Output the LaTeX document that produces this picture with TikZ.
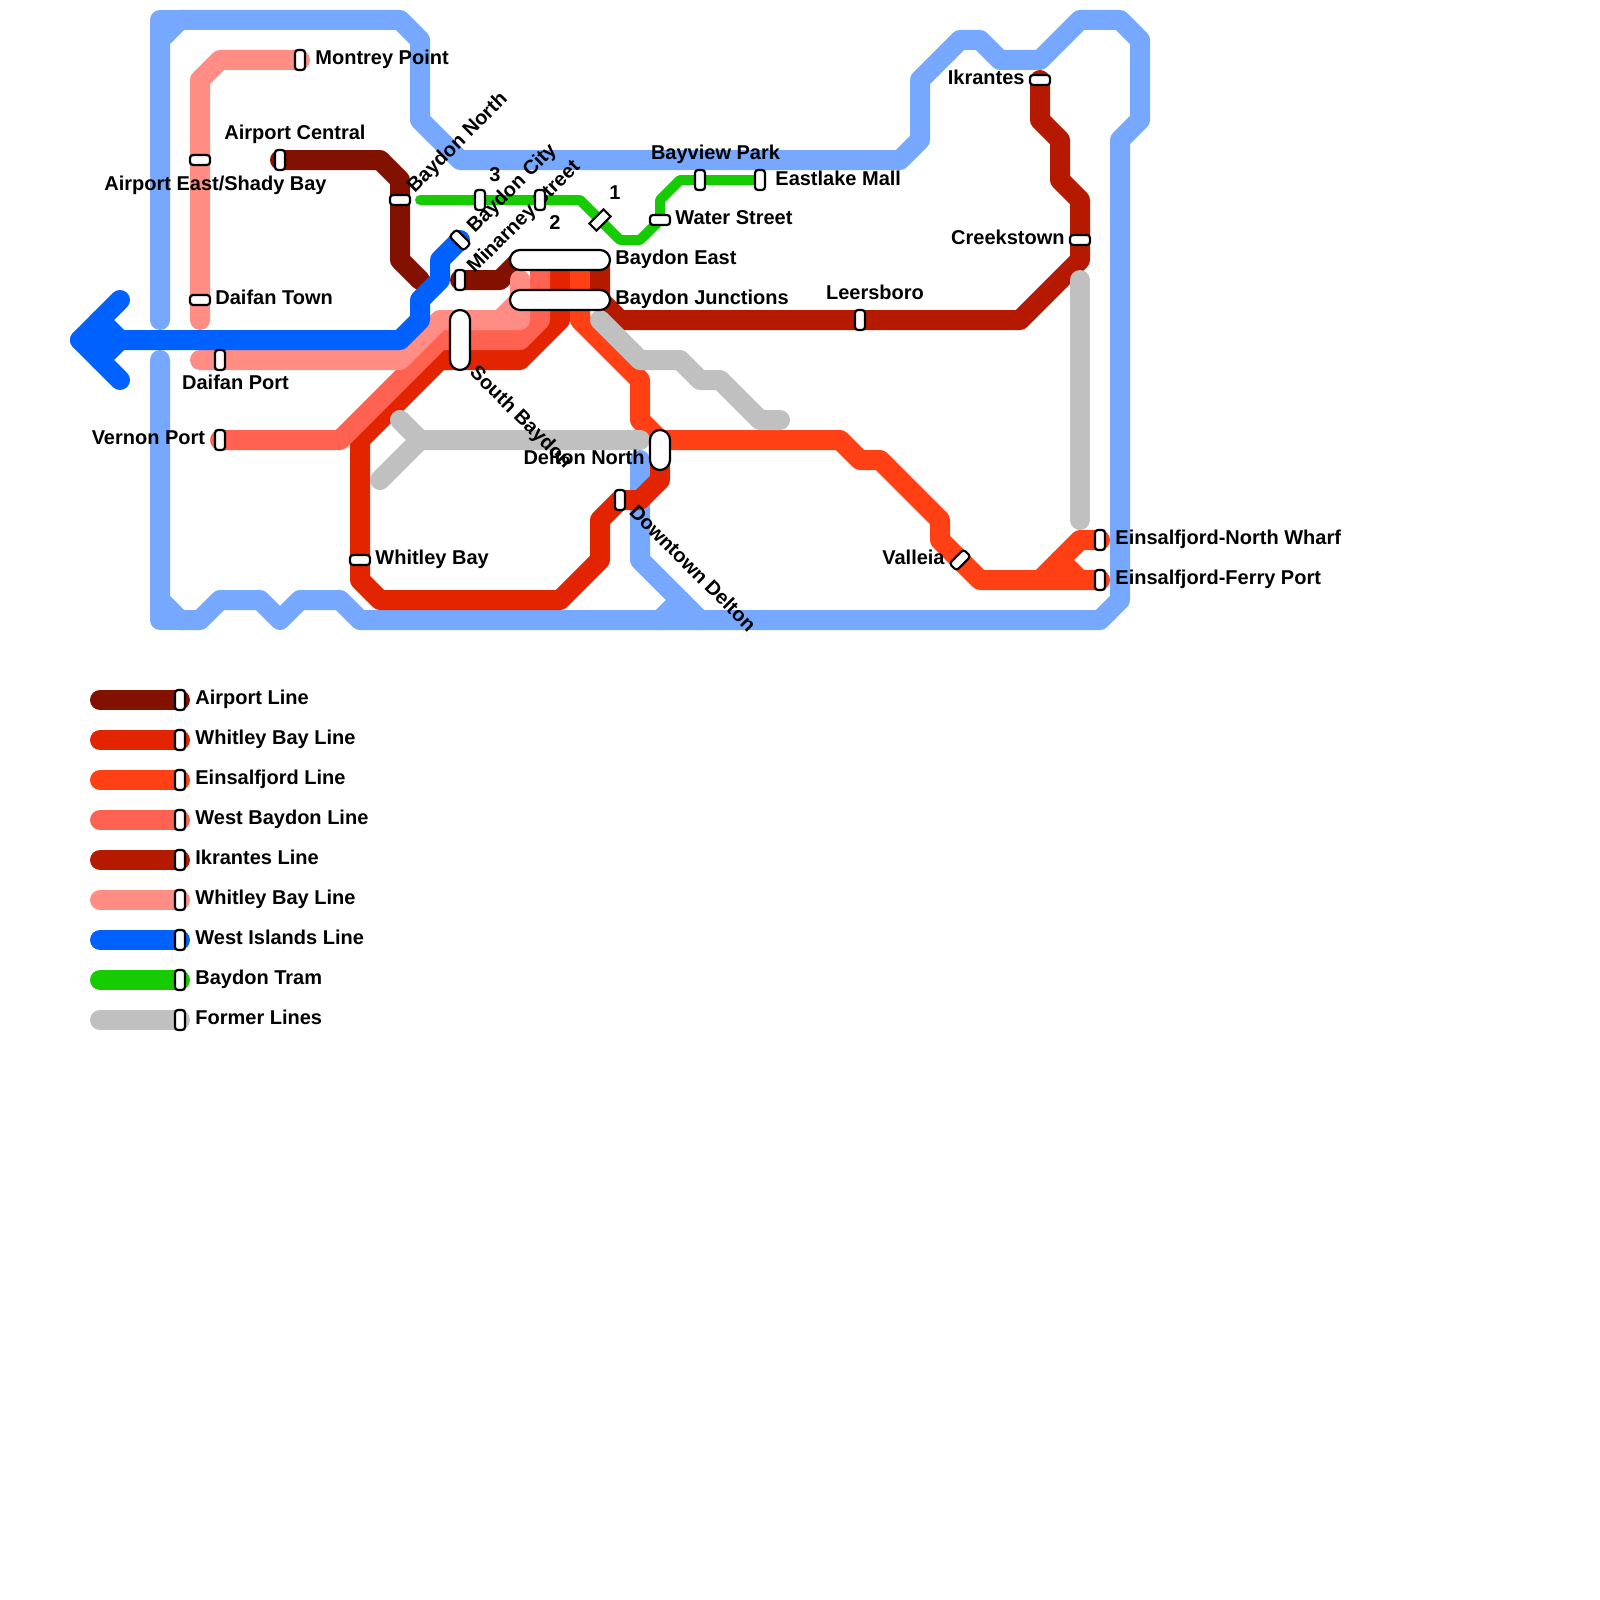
\documentclass[tikz,border=0pt]{standalone}
\usepackage{fontspec}
\setmainfont{Liberation Sans}
\usetikzlibrary{backgrounds}
\definecolor{harbourcol}{HTML}{76A8FF}
\definecolor{airportcol}{HTML}{831100}
\definecolor{whitleycol}{HTML}{E32400}
\definecolor{einsalcol}{HTML}{FF4015}
\definecolor{westcol}{HTML}{FF6250}
\definecolor{ikrantescol}{HTML}{B51A00}
\definecolor{shadycol}{HTML}{FF8D83}
\definecolor{islandscol}{HTML}{0061FF}
\definecolor{tramcol}{HTML}{16CC00}
\definecolor{formercol}{HTML}{C0C0C0}
\begin{document}
\begin{tikzpicture}[
    x=0.5pt, y=-0.5pt,
    metro/.style={line width=10pt, line cap=round, line join=round},
    tram/.style={line width=5pt, line cap=round, line join=round},
    stn/.style={draw=black, fill=white, line width=1.1pt, inner sep=0pt, rounded corners=1.5pt},
    stnh/.style={stn, minimum width=10pt, minimum height=5pt},
    stnv/.style={stn, minimum width=5pt, minimum height=10pt},
    bigh/.style={stn, rounded corners=5pt, minimum height=10pt},
    bigv/.style={stn, rounded corners=5pt, minimum width=10pt},
    lbw/.style={anchor=base west, inner sep=0pt, font=\bfseries},
    lbe/.style={anchor=base east, inner sep=0pt, font=\bfseries},
    lbc/.style={anchor=base, inner sep=0pt, font=\bfseries}
]
    \useasboundingbox (0,0) rectangle (1600,1600);

    \node[lbw] (lmontrey) at (315,64.5) {Montrey Point};
    \node[lbc] (lairportc) at (295,139.5) {Airport Central};
    \node[lbc] (lairporte) at (215.5,190.5) {Airport East/Shady Bay};
    \node[lbw] (ldaifant) at (215,304) {Daifan Town};
    \node[lbc] (ldaifanp) at (235.5,389.5) {Daifan Port};
    \node[lbe] (lvernon) at (205.5,444.5) {Vernon Port};
    \node[lbw] (lwhitley) at (375,564.5) {Whitley Bay};
    \node[lbw, rotate=45] (lbaydonn) at (414.5,194) {Baydon North};
    \node[lbw, rotate=45] (lbaydonc) at (474.5,234) {Baydon City};
    \node[lbw, rotate=45] (lminarney) at (474.5,274) {Minarney Street};
    \node[lbw, rotate=-45] (lsouth) at (468.5,373.5) {South Baydon};
    \node[lbw, rotate=-45] (ldowntown) at (628,513) {Downtown Delton};
    \node[lbc] (lthree) at (495,181) {3};
    \node[lbc] (ltwo) at (555,229.5) {2};
    \node[lbc] (lone) at (615,199.5) {1};
    \node[lbw] (lbaydone) at (615,264.5) {Baydon East};
    \node[lbw] (lbaydonj) at (615,304) {Baydon Junctions};
    \node[lbe] (ldelton) at (645,464.5) {Delton North};
    \node[lbw] (lwater) at (675,224.5) {Water Street};
    \node[lbc] (lbayview) at (715.5,160) {Bayview Park};
    \node[lbw] (leastlake) at (775,185) {Eastlake Mall};
    \node[lbc] (lleersboro) at (875,299.5) {Leersboro};
    \node[lbe] (lvalleia) at (945,564.5) {Valleia};
    \node[lbe] (likrantes) at (1025,84.5) {Ikrantes};
    \node[lbe] (lcreek) at (1065,244.5) {Creekstown};
    \node[lbw] (lwharf) at (1115,544.5) {Einsalfjord-North Wharf};
    \node[lbw] (lferry) at (1115,584.5) {Einsalfjord-Ferry Port};

    \node[stnv] (montrey) at (300,60) {};
    \node[stnv] (airportc) at (280,160) {};
    \node[stnh] (airporte) at (200,160) {};
    \node[stnh] (daifant) at (200,300) {};
    \node[stnv] (daifanp) at (220,360) {};
    \node[stnv] (vernon) at (220,440) {};
    \node[stnh] (whitley) at (360,560) {};
    \node[stnh] (baydonn) at (400,200) {};
    \node[stnv] (three) at (480,200) {};
    \node[stnv] (two) at (540,200) {};
    \node[stnh, rotate=45, rounded corners=0pt] (one) at (600,220) {};
    \node[stnh, rotate=-45] (baydonc) at (460,240) {};
    \node[stnv] (minarney) at (460,280) {};
    \node[bigh, minimum width=50pt] (baydone) at (560,260) {};
    \node[bigh, minimum width=50pt] (baydonj) at (560,300) {};
    \node[bigv, minimum height=30pt] (south) at (460,340) {};
    \node[bigv, minimum height=20pt] (delton) at (660,450) {};
    \node[stnv] (downtown) at (620,500) {};
    \node[stnh] (water) at (660,220) {};
    \node[stnv] (bayview) at (700,180) {};
    \node[stnv] (eastlake) at (760,180) {};
    \node[stnv] (leersboro) at (860,320) {};
    \node[stnh, rotate=45] (valleia) at (960,560) {};
    \node[stnh] (ikrantes) at (1040,80) {};
    \node[stnh] (creek) at (1080,240) {};
    \node[stnv] (wharf) at (1100,540) {};
    \node[stnv] (ferry) at (1100,580) {};

    \foreach \col/\name [count=\i] in {airportcol/Airport Line, whitleycol/Whitley Bay Line, einsalcol/Einsalfjord Line, westcol/West Baydon Line, ikrantescol/Ikrantes Line, shadycol/Whitley Bay Line, islandscol/West Islands Line, tramcol/Baydon Tram, formercol/Former Lines} {
        \pgfmathsetmacro{\rowy}{660+40*\i}
        \coordinate (keystart\i) at (100,\rowy);
        \node[stnv] (key\i) at (180,\rowy) {};
        \node[lbw] (keyname\i) at (195,\rowy+4) {\name};
        \begin{scope}[on background layer]
            \draw[metro, draw=\col] (keystart\i) -- (key\i.center);
        \end{scope}
    }

    \begin{scope}[on background layer]
        \draw[metro, harbourcol] (160,320) -- (160,40) -- (180,20) -- (400,20) -- (420,40) -- (420,120) -- (460,160) -- (900,160) -- (920,140) -- (920,80) -- (960,40) -- (980,40) -- (1000,60) -- (1040,60) -- (1080,20) -- (1120,20) -- (1140,40) -- (1140,120) -- (1120,140) -- (1120,600) -- (1100,620) -- (360,620) -- (340,600) -- (300,600) -- (280,620) -- (260,600) -- (220,600) -- (200,620) -- (180,620) -- (160,600) -- (160,360);
        \draw[metro, harbourcol] (160,40) -- (160,20) -- (180,20);
        \draw[metro, harbourcol] (160,600) -- (160,620) -- (180,620);
        \draw[metro, harbourcol] (640,460) -- (640,560) -- (700,620);
        \draw[metro, harbourcol] (680,600) -- (660,620);

        \draw[metro, airportcol] (airportc.center) -- (380,160) -- (400,180) -- (400,260) -- (420,280);
        \draw[metro, airportcol] (minarney.center) -- (500,280) -- (520,260);

        \draw[metro, whitleycol] (560,260) -- (560,320) -- (520,360) -- (440,360) -- (360,440) -- (whitley.center) -- (360,580) -- (380,600) -- (560,600) -- (600,560) -- (600,520) -- (downtown.center) -- (640,500) -- (660,480) -- (delton.center);

        \draw[metro, einsalcol] (580,260) -- (580,320) -- (640,380) -- (640,420) -- (660,440) -- (840,440) -- (860,460) -- (880,460) -- (940,520) -- (940,540) -- (valleia.center) -- (980,580) -- (ferry.center);
        \draw[metro, einsalcol] (1040,580) -- (1080,540) -- (wharf.center);
        \draw[metro, einsalcol] (1060,560) -- (1080,580);

        \draw[metro, westcol] (vernon.center) -- (340,440) -- (440,340) -- (520,340) -- (540,320) -- (540,260);

        \draw[metro, ikrantescol] (ikrantes.center) -- (1040,120) -- (1060,140) -- (1060,180) -- (1080,200) -- (creek.center) -- (1080,260) -- (1020,320) -- (leersboro.center) -- (620,320) -- (600,300) -- (600,260);

        \draw[metro, shadycol] (montrey.center) -- (220,60) -- (200,80) -- (airporte.center) -- (daifant.center) -- (200,320);
        \draw[metro, shadycol] (200,360) -- (400,360) -- (440,320) -- (520,320) -- (520,280);
        \draw[metro, shadycol] (500,320) -- (520,300);

        \draw[metro, islandscol] (120,300) -- (80,340) -- (120,380);
        \draw[metro, islandscol] (100,320) -- (120,340) -- (100,360);
        \draw[metro, islandscol] (80,340) -- (400,340) -- (420,320) -- (420,300) -- (440,280) -- (440,260) -- (baydonc.center);

        \draw[tram, tramcol] (420,200) -- (three.center) -- (two.center) -- (580,200) -- (one.center) -- (620,240) -- (640,240) -- (water.center) -- (660,200) -- (680,180) -- (bayview.center) -- (eastlake.center);

        \draw[metro, formercol] (600,320) -- (640,360) -- (680,360) -- (700,380) -- (720,380) -- (760,420) -- (780,420);
        \draw[metro, formercol] (400,420) -- (420,440) -- (640,440);
        \draw[metro, formercol] (380,480) -- (420,440);
        \draw[metro, formercol] (1080,280) -- (1080,520);
    \end{scope}
\end{tikzpicture}
\end{document}
